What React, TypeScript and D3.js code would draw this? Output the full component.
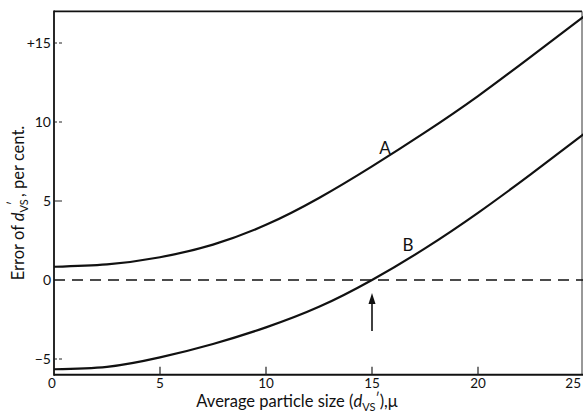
import React from "react";
import * as d3 from "d3";

const sizes = [0, 2.5, 5, 7.5, 10, 12.5, 15, 17.5, 20, 22.5, 25];
const curveA = [0.84, 0.99, 1.44, 2.24, 3.49, 5.19, 7.19, 9.34, 11.64, 14.14, 16.69];
const curveB = [-5.65, -5.5, -4.9, -4.05, -3.0, -1.7, 0, 2.0, 4.25, 6.7, 9.25];
const xTicks = [0, 5, 10, 15, 20, 25];
const yTicks = [15, 10, 5, 0, -5];
const yTickLabels = ["+15", "10", "5", "0", "\u22125"];
const arrowAt = 15;

const W = 583;
const H = 412;
const FONT = "Lato, 'Open Sans', 'DejaVu Sans', sans-serif";

export default function App() {
  const x = d3.scaleLinear().domain([0, 25]).range([54, 584]);
  const y = d3.scaleLinear().domain([-6, 17]).range([374.8, 11.4]);
  const line = d3
    .line<number>()
    .x((_, i) => x(sizes[i]))
    .curve(d3.curveNatural);
  const pathA = line.y((v) => y(v))(curveA) || "";
  const pathB = line.y((v) => y(v))(curveB) || "";
  const left = x(0);
  const right = 582;
  const top = y(17);
  const bottom = y(-6);
  const ax = x(arrowAt);

  return (
    <svg
      width={W}
      height={H}
      style={{ position: "absolute", left: 0, top: 0, background: "#fff" }}
      fontFamily={FONT}
    >
      <rect x={0} y={0} width={W} height={H} fill="#fff" />
      {/* frame */}
      <line x1={left} x2={right} y1={top} y2={top} stroke="#111" strokeWidth={1.8} />
      <line x1={right} x2={right} y1={top} y2={bottom} stroke="#333" strokeWidth={1} />
      <line x1={left} x2={left} y1={top - 0.9} y2={bottom + 1} stroke="#111" strokeWidth={1.8} />
      <line x1={left} x2={right + 2} y1={bottom} y2={bottom} stroke="#111" strokeWidth={2} />
      {/* zero dashed line */}
      <line
        x1={left}
        x2={right + 2}
        y1={y(0)}
        y2={y(0)}
        stroke="#111"
        strokeWidth={1.7}
        strokeDasharray="11,7"
      />
      {/* y ticks */}
      {yTicks.map((t, i) => (
        <g key={"y" + t}>
          {t !== 0 && (
            <line
              x1={left}
              x2={left + 8}
              y1={y(t)}
              y2={y(t)}
              stroke="#222"
              strokeWidth={1}
              strokeDasharray={t === 5 ? undefined : "3,2"}
            />
          )}
          <text
            x={left - 3}
            y={y(t)}
            dy="0.35em"
            textAnchor="end"
            fontSize={14}
            fill="#111"
          >
            {yTickLabels[i]}
          </text>
        </g>
      ))}
      {/* x ticks */}
      {xTicks.map((t) => (
        <g key={"x" + t}>
          {t !== 0 && t !== 25 && (
            <line x1={x(t)} x2={x(t)} y1={bottom} y2={bottom - 8} stroke="#222" strokeWidth={1.2} />
          )}
          <text
            x={t === 0 ? x(t) - 2 : t === 25 ? 581 : x(t)}
            y={bottom + 13}
            textAnchor={t === 25 ? "end" : "middle"}
            fontSize={13.5}
            fill="#111"
          >
            {t}
          </text>
        </g>
      ))}
      {/* curves */}
      <path d={pathA} fill="none" stroke="#111" strokeWidth={2.2} />
      <path d={pathB} fill="none" stroke="#111" strokeWidth={2.2} />
      <text x={385} y={148} dy="0.35em" textAnchor="middle" fontSize={17} fill="#111">
        A
      </text>
      <text x={408} y={245} dy="0.35em" textAnchor="middle" fontSize={17} fill="#111">
        B
      </text>
      {/* arrow */}
      <line x1={ax} x2={ax} y1={331} y2={300} stroke="#111" strokeWidth={1.6} />
      <path d={`M${ax},${293} L${ax - 3.5},${304} L${ax + 3.5},${304} Z`} fill="#111" />
      {/* axis titles */}
      <text x={297} y={407} textAnchor="middle" fontSize={16.5} fill="#111">
        Average particle size (
        <tspan fontStyle="italic">d</tspan>
        <tspan dy={4} fontSize={11}>VS</tspan>
        <tspan dy={-8} fontSize={13}>{"\u2032"}</tspan>
        <tspan dy={4}>),{"\u03bc"}</tspan>
      </text>
      <text
        transform={`translate(24,${203}) rotate(-90)`}
        textAnchor="middle"
        fontSize={16.5}
        fill="#111"
      >
        Error of <tspan fontStyle="italic">d</tspan>
        <tspan dy={4} fontSize={11}>VS</tspan>
        <tspan dx={-6} dy={-10} fontSize={13}>{"\u2032"}</tspan>
        <tspan dx={4} dy={6}>, per cent.</tspan>
      </text>
    </svg>
  );
}
